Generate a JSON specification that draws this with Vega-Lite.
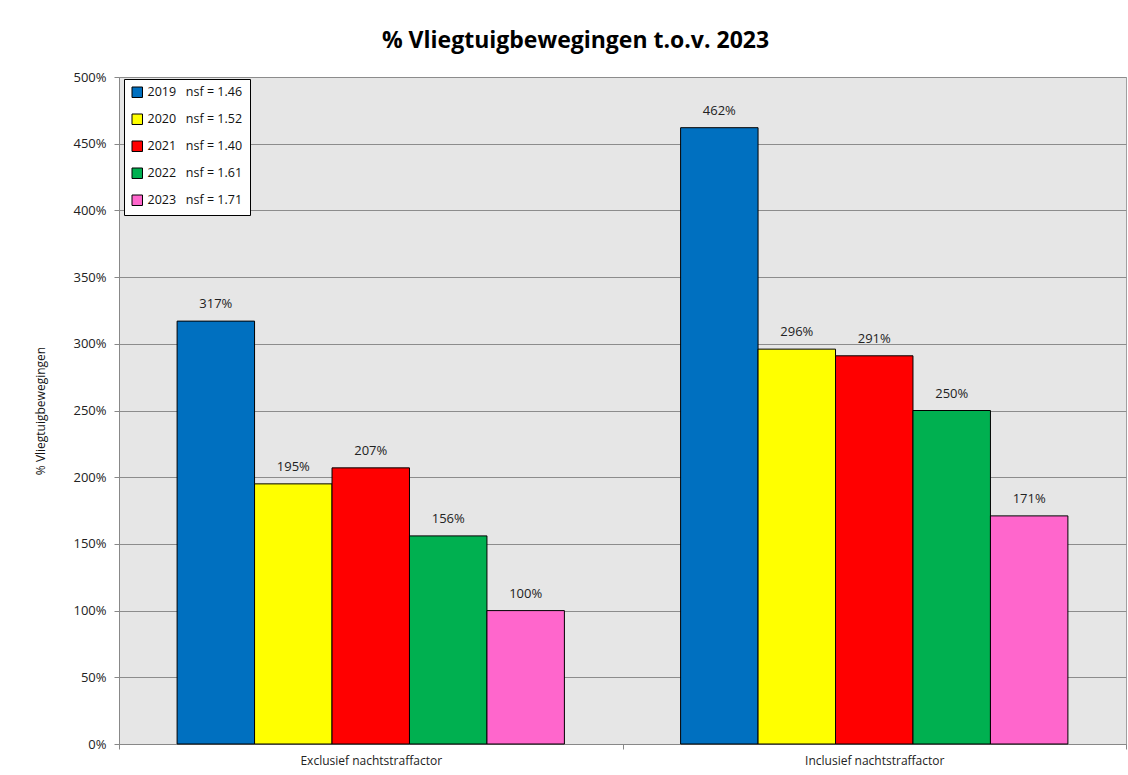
{
  "$schema": "https://vega.github.io/schema/vega-lite/v6.json",
  "autosize": "none",
  "width": 1007,
  "height": 667,
  "padding": {"left": 119, "top": 77, "right": 2, "bottom": 31},
  "background": "white",
  "title": {"text": "% Vliegtuigbewegingen t.o.v. 2023", "fontSize": 23, "font": "Open Sans", "fontWeight": "bold", "anchor": "middle", "offset": 18, "dx": -47, "color": "black"},
  "config": {
    "font": "Open Sans",
    "view": {"fill": "#e6e6e6", "stroke": "#a0a0a0"},
    "axis": {"labelFont": "Open Sans", "titleFont": "Open Sans", "labelColor": "#222", "titleColor": "#111", "domainColor": "#888", "tickColor": "#888"},
    "legend": {"labelFont": "Open Sans"}
  },
  "data": {
    "values": [
      {"groep": "Exclusief nachtstraffactor", "jaar": "2019", "legenda": "2019\u00a0\u00a0\u00a0nsf = 1.46", "waarde": 3.17},
      {"groep": "Exclusief nachtstraffactor", "jaar": "2020", "legenda": "2020\u00a0\u00a0\u00a0nsf = 1.52", "waarde": 1.95},
      {"groep": "Exclusief nachtstraffactor", "jaar": "2021", "legenda": "2021\u00a0\u00a0\u00a0nsf = 1.40", "waarde": 2.07},
      {"groep": "Exclusief nachtstraffactor", "jaar": "2022", "legenda": "2022\u00a0\u00a0\u00a0nsf = 1.61", "waarde": 1.56},
      {"groep": "Exclusief nachtstraffactor", "jaar": "2023", "legenda": "2023\u00a0\u00a0\u00a0nsf = 1.71", "waarde": 1.00},
      {"groep": "Inclusief nachtstraffactor", "jaar": "2019", "legenda": "2019\u00a0\u00a0\u00a0nsf = 1.46", "waarde": 4.62},
      {"groep": "Inclusief nachtstraffactor", "jaar": "2020", "legenda": "2020\u00a0\u00a0\u00a0nsf = 1.52", "waarde": 2.96},
      {"groep": "Inclusief nachtstraffactor", "jaar": "2021", "legenda": "2021\u00a0\u00a0\u00a0nsf = 1.40", "waarde": 2.91},
      {"groep": "Inclusief nachtstraffactor", "jaar": "2022", "legenda": "2022\u00a0\u00a0\u00a0nsf = 1.61", "waarde": 2.50},
      {"groep": "Inclusief nachtstraffactor", "jaar": "2023", "legenda": "2023\u00a0\u00a0\u00a0nsf = 1.71", "waarde": 1.71}
    ]
  },
  "encoding": {
    "x": {
      "field": "groep", "type": "nominal", "sort": ["Exclusief nachtstraffactor", "Inclusief nachtstraffactor"],
      "scale": {"paddingInner": 0, "paddingOuter": 0},
      "axis": {"title": null, "labelAngle": 0, "tickBand": "extent", "grid": false, "labelFontSize": 12, "labelPadding": 6, "tickSize": 5}
    },
    "xOffset": {"field": "jaar", "type": "nominal", "sort": ["2019", "2020", "2021", "2022", "2023"], "scale": {"paddingInner": 0, "paddingOuter": 0.75}},
    "y": {
      "field": "waarde", "type": "quantitative",
      "scale": {"domain": [0, 5], "nice": false},
      "axis": {"title": "% Vliegtuigbewegingen", "format": ".0%", "values": [0, 0.5, 1, 1.5, 2, 2.5, 3, 3.5, 4, 4.5, 5], "gridColor": "#8c8c8c", "gridWidth": 1, "labelFontSize": 13, "labelPadding": 8, "tickSize": 5, "titleFontSize": 12, "titleFontWeight": "normal", "titlePadding": 25}
    }
  },
  "layer": [
    {
      "mark": {"type": "bar", "stroke": "black", "strokeWidth": 1},
      "encoding": {
        "color": {
          "field": "legenda", "type": "nominal",
          "scale": {
            "domain": ["2019\u00a0\u00a0\u00a0nsf = 1.46", "2020\u00a0\u00a0\u00a0nsf = 1.52", "2021\u00a0\u00a0\u00a0nsf = 1.40", "2022\u00a0\u00a0\u00a0nsf = 1.61", "2023\u00a0\u00a0\u00a0nsf = 1.71"],
            "range": ["#0070C0", "#FFFF00", "#FF0000", "#00B050", "#FF66CC"]
          },
          "legend": {
            "title": null, "orient": "none", "legendX": 5, "legendY": 2,
            "fillColor": "white", "strokeColor": "black", "padding": 7,
            "symbolType": "square", "symbolSize": 110, "symbolStrokeColor": "black", "symbolStrokeWidth": 1, "symbolOpacity": 1,
            "labelFontSize": 12.5, "labelColor": "#111", "rowPadding": 12, "labelOffset": 4
          }
        }
      }
    },
    {
      "mark": {"type": "text", "dy": -10, "baseline": "bottom", "fontSize": 13, "color": "#222"},
      "encoding": {
        "text": {"field": "waarde", "type": "quantitative", "format": ".0%"}
      }
    }
  ]
}
